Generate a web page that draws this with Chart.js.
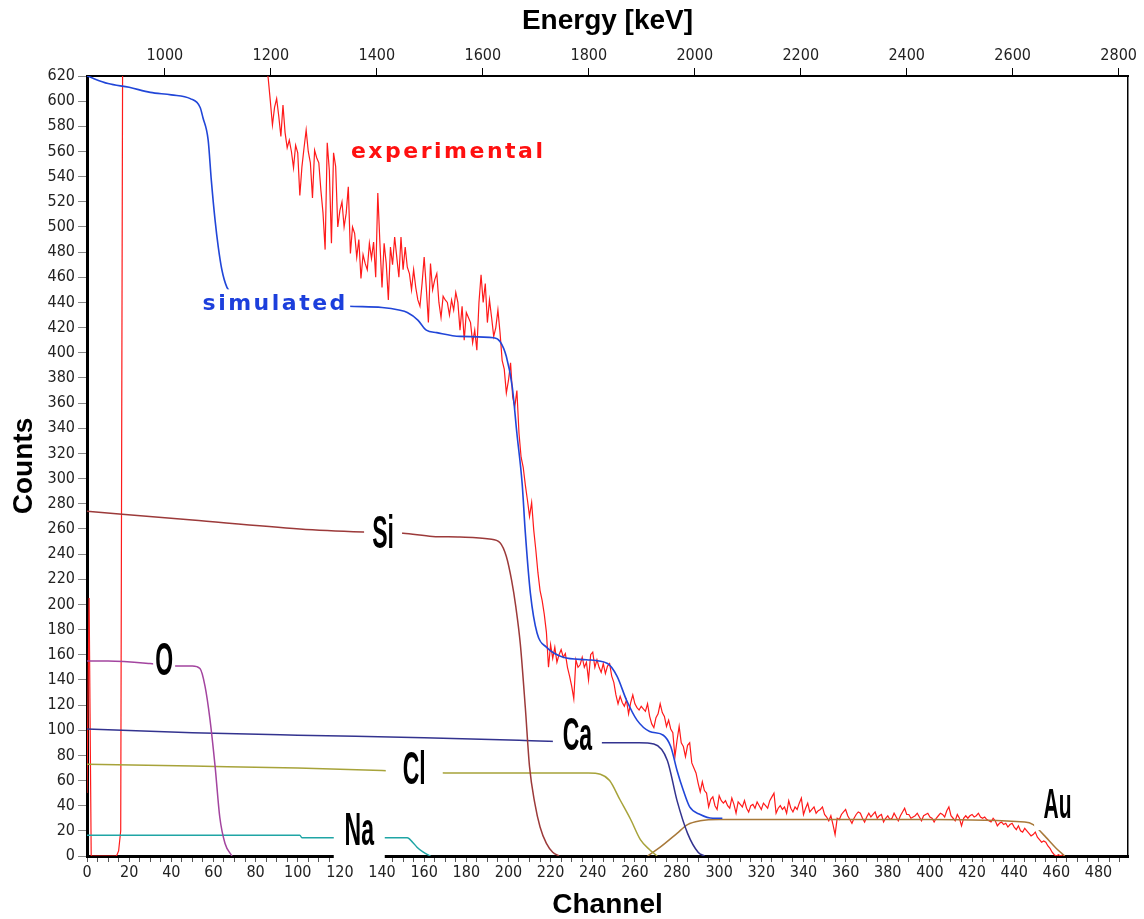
<!DOCTYPE html>
<html>
<head>
<meta charset="utf-8">
<script src="https://cdn.jsdelivr.net/npm/chart.js@4.4.1/dist/chart.umd.min.js"></script>
<style>
  html, body { margin: 0; padding: 0; background: #fff; }
</style>
</head>
<body>
<canvas id="spectrum" width="1144" height="919"></canvas>
<script>
// --- data ---
const channelMax = 494;
const countMax = 620;
const energyOffset = 853;      // keV at channel 0
const energyPerChannel = 3.977; // keV per channel

const channelLabelStep = 20;
const energyTicks = [1000, 1200, 1400, 1600, 1800, 2000, 2200, 2400, 2600, 2800];

// experimental: a few low channels, then one value per channel from ch 85
const expLowChannels = [0, 1, 2, 14, 15, 16, 17];
const expLowCounts = [50, 205, 0, 0, 4, 20, 700];
const expFirstChannel = 85;
const expCounts = [
  630, 618, 600, 581, 595, 602, 588, 572, 597, 575, 563, 569, 560, 547, 565,
  559, 525, 548, 563, 577, 560, 551, 523, 561, 555,
  551, 529, 511, 482, 567, 545, 487, 559, 548, 500,
  513, 520, 500, 511, 532, 479, 500, 495, 476, 490,
  459, 478, 471, 466, 487, 475, 488, 460, 527, 487,
  452, 487, 471, 442, 484, 470, 492, 476, 460, 492,
  466, 484, 468, 463, 450, 466, 452, 442, 437, 455,
  476, 452, 424, 471, 450, 458, 463, 440, 428, 445,
  442, 440, 430, 442, 434, 448, 440, 418, 437, 410,
  432, 428, 424, 408, 418, 402, 440, 462, 440, 455,
  424, 442, 428, 413, 420, 434, 416, 394, 387, 368,
  378, 392, 365, 357, 370, 336, 317, 309, 295, 283,
  270, 281, 259, 243, 225, 211, 203, 192, 178, 150,
  168, 157, 166, 154, 160, 164, 158, 161, 150, 143,
  135, 125, 156, 150, 152, 158, 150, 154, 140, 160,
  162, 150, 156, 150, 146, 153, 145, 151, 153, 143,
  138, 128, 121, 127, 122, 119, 124, 113, 122, 128,
  121, 118, 116, 119, 117, 115, 121, 111, 105, 102,
  110, 113, 121, 114, 111, 103, 108, 101, 98, 79,
  92, 103, 90, 87, 79, 88, 90, 74, 70, 66,
  58, 51, 59, 52, 50, 39, 45, 47, 40, 37,
  48, 44, 42, 44, 40, 38, 46, 41, 34, 43,
  41, 39, 44, 38, 35, 40, 41, 38, 43, 40,
  37, 42, 40, 38, 44, 47, 50, 34, 38, 40,
  37, 39, 34, 44, 38, 35, 39, 37, 42, 46,
  33, 38, 42, 35, 37, 39, 34, 36, 37, 39,
  33, 31, 28, 32, 25, 17, 30, 29, 33, 35,
  37, 32, 29, 26, 30, 33, 35, 34, 30, 27,
  31, 34, 31, 33, 35, 30, 32, 33, 27, 30,
  32, 29, 30, 34, 31, 28, 32, 35, 38, 33,
  33, 30, 31, 32, 34, 31, 28, 32, 33, 34,
  31, 30, 27, 30, 32, 34, 33, 31, 36, 39,
  32, 30, 28, 33, 30, 24, 30, 32, 30, 32,
  33, 31, 32, 34, 31, 30, 31, 29, 28, 27,
  30, 28, 24, 26, 27, 25, 26, 23, 25, 26,
  23, 21, 24, 20, 19, 22, 20, 18, 16, 17,
  19, 15, 13, 11, 12, 11, 8, 6, 3, 1,
  0, 1, 0, 1, 0
];

// simulated total spectrum
const simChannels = [0, 10, 20, 30, 40, 49, 53.7, 55, 57.5, 59, 60.8, 62.3, 64, 66.4, 69, 80, 100, 124, 140, 148, 152, 157, 161, 166, 177, 193, 196, 199, 201.8, 204, 206.5, 208, 210.4, 213.6, 218, 226, 237, 247, 251.5, 256, 261, 267, 273.5, 277, 280, 283, 286, 291, 297, 301.5];
const simCounts = [620, 614, 611, 607, 605, 602, 595, 587, 569, 537, 505, 484, 466, 452, 447, 443, 440, 437, 436, 434, 432, 426, 418, 416, 413, 412, 409, 397, 373, 336, 296, 257, 209, 177, 166, 158, 156, 153, 143, 124, 108, 99, 96, 87, 68, 52, 39, 33, 30, 30];

// element contributions
const siChannels = [0, 50, 101, 131, 150, 164, 177, 191, 196, 199, 201.5, 203.5, 205.6, 208, 210, 212.5, 215, 218, 221, 224];
const siCounts = [274, 267, 260, 257.5, 256.5, 254, 253.5, 252, 249, 238, 219, 198, 169, 118, 71, 42, 23, 10, 3, 0];

const oChannels = [0, 10, 30, 41, 50, 53.6, 56, 58.4, 60.8, 63, 65.5, 68.8];
const oCounts = [155, 155, 153, 151, 151, 149, 135, 108, 71, 31, 10, 0];

const caChannels = [0, 50, 100, 160, 205, 245, 262, 269, 275.4, 280, 285, 290, 293];
const caCounts = [101, 98, 96, 94, 92, 90, 90, 89, 76, 44, 18, 3, 0];

const clChannels = [0, 50, 100, 140, 170, 238, 243.6, 248, 253, 258, 262.6, 267, 270.6];
const clCounts = [73, 71.5, 70, 68, 66, 66, 65, 60, 44.5, 29, 13, 5, 0];

const naChannels = [0, 101, 102, 152, 154.5, 156.6, 159.6, 163];
const naCounts = [16.5, 16.5, 14.5, 14.5, 11, 7, 3, 0];

const auChannels = [266, 272, 280, 285, 291, 300, 350, 400, 445, 449, 451, 455, 460, 464];
const auCounts = [0, 7, 18, 25, 28, 29, 29, 29, 27, 25, 22, 15, 6, 0];

// text placed on the plot (white boxes hide the curve under them)
const curveLabels = [
  { text: 'experimental', channel: 171.4, count: 559, color: '#ff1010', font: 'bold 22px "DejaVu Sans"', spacing: '2.5px', boxW: 0, boxH: 0 },
  { text: 'simulated', channel: 89.3, count: 438.5, color: '#1c3fdc', font: 'bold 22px "DejaVu Sans"', spacing: '2.5px', boxW: 150, boxH: 30 },
  { text: 'Si', channel: 140.5, count: 255.2, color: '#000', font: 'bold 46px "Liberation Sans"', squeeze: 0.5, boxW: 38, boxH: 46 },
  { text: 'O', channel: 36.6, count: 154.2, color: '#000', font: 'bold 46px "Liberation Sans"', squeeze: 0.5, boxW: 22, boxH: 46 },
  { text: 'Ca', channel: 232.7, count: 94.6, color: '#000', font: 'bold 46px "Liberation Sans"', squeeze: 0.5, boxW: 49, boxH: 48 },
  { text: 'Cl', channel: 155.3, count: 67.6, color: '#000', font: 'bold 46px "Liberation Sans"', squeeze: 0.5, boxW: 57, boxH: 40 },
  { text: 'Na', channel: 129.2, count: 19.1, color: '#000', font: 'bold 46px "Liberation Sans"', squeeze: 0.5, boxW: 51, boxH: 64 },
  { text: 'Au', channel: 460.6, count: 39.7, color: '#000', font: 'bold 42px "Liberation Sans"', squeeze: 0.5, boxW: 47, boxH: 48 }
];

const toPoints = (xs, ys) => xs.map((c, i) => ({ x: c, y: ys[i] }));

const expPoints = toPoints(expLowChannels, expLowCounts)
  .concat(expCounts.map((v, i) => ({ x: expFirstChannel + i, y: v })));

const channelTicks = [];
for (let c = 0; c <= 490; c += 5) channelTicks.push(c);
const countTicks = [];
for (let v = 0; v <= countMax; v += 20) countTicks.push(v);

const tickFont = { family: '"DejaVu Sans Condensed", "DejaVu Sans", sans-serif', size: 16 };
const titleFont = { family: '"Liberation Sans", Arial, sans-serif', size: 28, weight: 'bold' };

function curve(label, points, color, order, width) {
  return {
    label, data: points, borderColor: color, borderWidth: width || 1.5,
    pointRadius: 0, fill: false, cubicInterpolationMode: 'monotone', order
  };
}

const labelPlugin = {
  id: 'curveLabels',
  afterDatasetsDraw(chart) {
    const { ctx, scales: { x, y } } = chart;
    curveLabels.forEach(l => {
      const px = x.getPixelForValue(l.channel);
      const py = y.getPixelForValue(l.count);
      ctx.save();
      if (l.boxW) {
        ctx.fillStyle = '#fff';
        ctx.fillRect(px - l.boxW / 2, py - l.boxH / 2, l.boxW, l.boxH);
      }
      ctx.translate(px, py);
      ctx.scale(l.squeeze || 1, 1);
      ctx.font = l.font;
      ctx.fillStyle = l.color;
      ctx.letterSpacing = l.spacing || '0px';
      ctx.textAlign = 'center';
      ctx.textBaseline = 'middle';
      ctx.fillText(l.text, 0, 0);
      ctx.restore();
    });
  }
};

new Chart(document.getElementById('spectrum'), {
  type: 'line',
  data: {
    datasets: [
      curve('simulated', toPoints(simChannels, simCounts), '#2146d8', 1, 1.6),
      curve('Si', toPoints(siChannels, siCounts), '#9c3a3a', 2),
      curve('O', toPoints(oChannels, oCounts), '#a3449f', 3),
      curve('Ca', toPoints(caChannels, caCounts), '#33338f', 4),
      curve('Cl', toPoints(clChannels, clCounts), '#a7a33a', 5),
      curve('Na', toPoints(naChannels, naCounts), '#1fa5a5', 6),
      curve('Au', toPoints(auChannels, auCounts), '#a8793a', 7),
      { label: 'experimental', data: expPoints, borderColor: '#ff1a1a', borderWidth: 1.2,
        pointRadius: 0, fill: false, tension: 0, order: 9 }
    ]
  },
  options: {
    responsive: false,
    animation: false,
    layout: { padding: 0 },
    plugins: { legend: { display: false }, tooltip: { enabled: false } },
    scales: {
      x: {
        type: 'linear', position: 'bottom', min: 0, max: channelMax,
        afterFit: s => { s.height = 63; },
        afterBuildTicks: s => { s.ticks = channelTicks.map(v => ({ value: v })); },
        ticks: {
          autoSkip: false, maxRotation: 0, padding: 1, color: '#222', font: tickFont,
          callback: v => (v % channelLabelStep === 0 ? String(v) : '')
        },
        grid: { drawOnChartArea: false, tickLength: 6, color: '#555' },
        border: { color: '#000', width: 3 },
        title: { display: true, text: 'Channel', color: '#000', font: { ...titleFont, lineHeight: 1 }, padding: { top: 0, bottom: 0 } }
      },
      x2: {
        type: 'linear', position: 'top',
        min: energyOffset, max: energyOffset + energyPerChannel * channelMax,
        afterFit: s => { s.height = 76; },
        afterBuildTicks: s => { s.ticks = energyTicks.map(v => ({ value: v })); },
        ticks: { autoSkip: false, maxRotation: 0, padding: 3, color: '#222', font: tickFont, callback: v => String(v) },
        grid: { drawOnChartArea: false, tickLength: 8, color: '#000' },
        border: { color: '#000', width: 2 },
        title: { display: true, text: 'Energy [keV]', color: '#000', font: { ...titleFont, lineHeight: 1 }, padding: { top: 7, bottom: 0 } }
      },
      y: {
        type: 'linear', position: 'left', min: 0, max: countMax,
        afterFit: s => { s.width = 87; },
        afterBuildTicks: s => { s.ticks = countTicks.map(v => ({ value: v })); },
        ticks: { autoSkip: false, padding: 3, color: '#222', font: tickFont, callback: v => String(v) },
        grid: { drawOnChartArea: false, tickLength: 9, color: '#888' },
        border: { color: '#000', width: 3 },
        title: { display: true, text: 'Counts', color: '#000', font: { ...titleFont, lineHeight: 1 }, padding: { top: 10, bottom: 0 } }
      },
      y2: {
        type: 'linear', position: 'right', min: 0, max: countMax,
        afterFit: s => { s.width = 16; },
        ticks: { display: false },
        grid: { display: false },
        border: { color: '#000', width: 1.5 }
      }
    }
  },
  plugins: [labelPlugin]
});
</script>
</body>
</html>
